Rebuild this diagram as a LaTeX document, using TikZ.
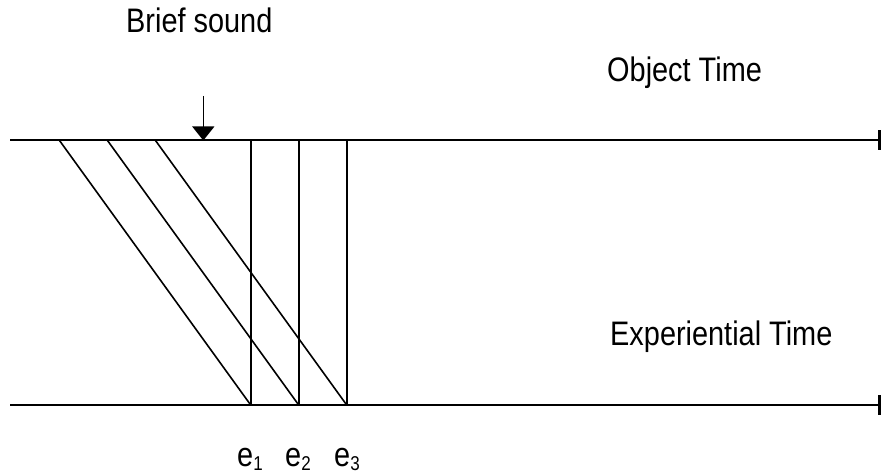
\documentclass[tikz,border=0pt]{standalone}
\usepackage{fontspec}
\setmainfont{Liberation Sans}
\usetikzlibrary{arrows.meta}
\newcommand{\lbltxt}[1]{\fontsize{34}{40}\selectfont\scalebox{0.85}[1]{#1}}
\newcommand{\esub}[1]{\lbltxt{e\raisebox{-4pt}{\fontsize{20}{24}\selectfont #1}}}
\begin{document}
\begin{tikzpicture}[x=1pt,y=-1pt,
  axis/.style={line width=2pt,-{Bar[width=20pt,line width=3.5pt]}},
  thin/.style={line width=1.6pt},
  lbl/.style={inner sep=0pt,anchor=base west}]
\useasboundingbox (0,0) rectangle (881,473);
% axis endpoints
\coordinate (TL) at (10,140.5);
\coordinate (TR) at (881,140.5);
\coordinate (BL) at (10,405);
\coordinate (BR) at (881,405);
% diagonal starts
\coordinate (t1) at (59.5,140.5);
\coordinate (t2) at (107.5,140.5);
\coordinate (t3) at (155.5,140.5);
% event points on bottom
\coordinate (b1) at (250.7,405);
\coordinate (b2) at (298.7,405);
\coordinate (b3) at (346.7,405);
% vertical tops
\coordinate (v1) at (250.7,140.5);
\coordinate (v2) at (298.7,140.5);
\coordinate (v3) at (346.7,140.5);
% arrow
\coordinate (as) at (203.3,96);
\coordinate (ae) at (203.3,140.5);

\draw[axis] (TL) -- (TR);
\draw[axis] (BL) -- (BR);
\draw[thin] (t1) -- (b1);
\draw[thin] (t2) -- (b2);
\draw[thin] (t3) -- (b3);
\draw[thin] (v1) -- (b1);
\draw[thin] (v2) -- (b2);
\draw[thin] (v3) -- (b3);
\draw[line width=1.3pt,-{Triangle[length=14pt,width=22pt]}] (as) -- (ae);

\node[lbl] (brief) at (126,33) {\lbltxt{Brief sound}};
\node[lbl] (obj) at (607,82) {\lbltxt{Object Time}};
\node[lbl] (exp) at (610,345) {\lbltxt{Experiential Time}};
\node[lbl] (e1) at (237,466) {\esub{1}};
\node[lbl] (e2) at (285,466) {\esub{2}};
\node[lbl] (e3) at (334,466) {\esub{3}};
\end{tikzpicture}
\end{document}
